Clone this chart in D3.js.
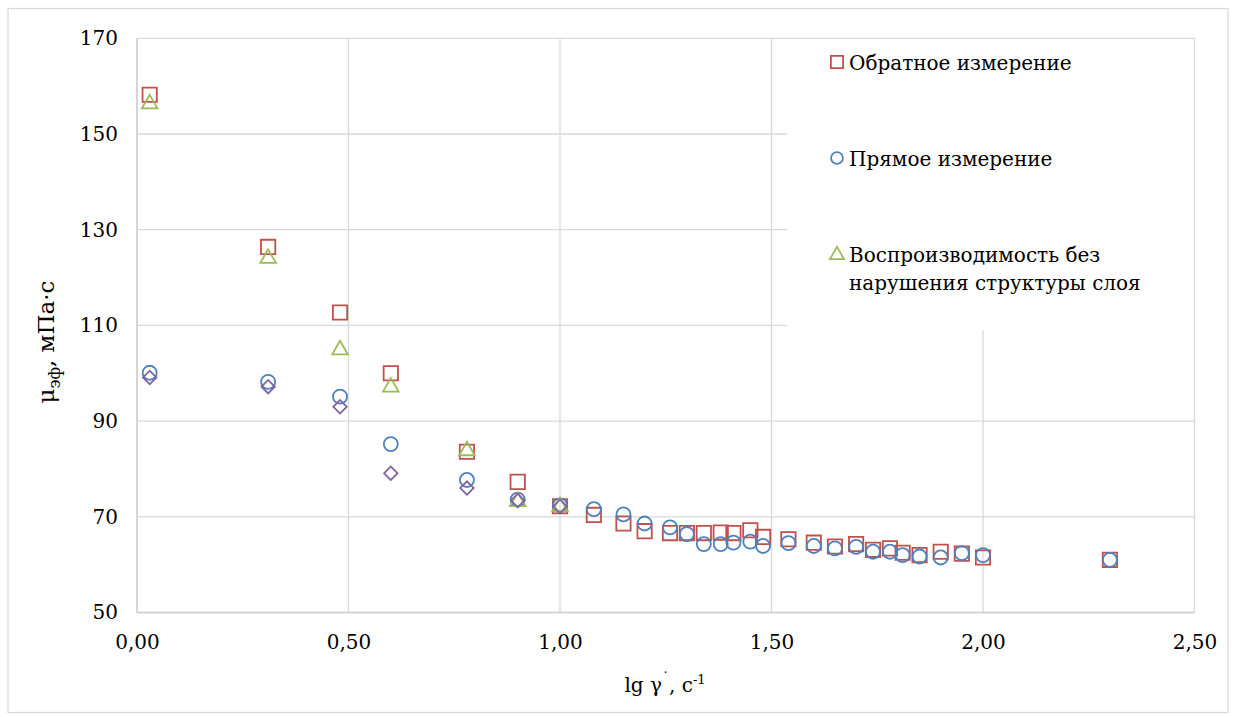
<!DOCTYPE html>
<html><head><meta charset="utf-8">
<script src="https://cdn.jsdelivr.net/npm/d3@7"></script>
<style>
html,body{margin:0;padding:0;background:#fff;}
svg text{font-family:"DejaVu Serif","Liberation Serif",serif;fill:#000;}
</style></head>
<body>
<svg id="chart" width="1236" height="717"></svg>
<script>
// ---- data ----
const xValues = [0.03,0.31,0.48,0.60,0.78,0.90,1.00,1.08,1.15,1.20,1.26,1.30,1.34,1.38,1.41,1.45,1.48,1.54,1.60,1.65,1.70,1.74,1.78,1.81,1.85,1.90,1.95,2.00,2.30];
const reverseValues = [158.2,126.4,112.7,100.0,83.6,77.3,72.2,70.4,68.6,67.0,66.6,66.6,66.6,66.7,66.6,67.2,65.8,65.3,64.6,63.8,64.3,63.1,63.4,62.5,62.0,62.7,62.3,61.5,61.0];
const directValues = [100.1,98.2,95.1,85.2,77.7,73.6,72.4,71.6,70.5,68.6,67.8,66.4,64.3,64.3,64.6,64.8,63.9,64.5,63.9,63.4,63.7,62.7,62.7,62.0,61.7,61.5,62.4,62.0,61.0];
const reproX = [0.03,0.31,0.48,0.60,0.78,0.90,1.00];
const reproValues = [156.3,124.0,104.9,97.1,83.8,73.2,72.1];
const extraX = [0.03,0.31,0.48,0.60,0.78,0.90,1.00];
const extraValues = [99.1,97.2,93.0,79.1,76.0,73.4,72.2];
const xTicks = [0,0.5,1.0,1.5,2.0,2.5];
const yTicks = [50,70,90,110,130,150,170];
const legendLabels = ["Обратное измерение","Прямое измерение",["Воспроизводимость без","нарушения структуры слоя"]];

const colors = {red:"#C0504D", blue:"#4F81BD", green:"#9BBB59", purple:"#8064A2"};

const svg = d3.select("#chart");
const plot = {left:137, right:1194.5, top:38.3, bottom:612.5};

const x = d3.scaleLinear().domain([0,2.5]).range([plot.left, plot.right]);
const y = d3.scaleLinear().domain([50,170]).range([plot.bottom, plot.top]);

// outer border
svg.append("rect").attr("x",8).attr("y",8.5).attr("width",1220).attr("height",704)
  .attr("fill","#fff").attr("stroke","#d9d9d9").attr("stroke-width",1.25);

// gridlines
const grid = svg.append("g");
grid.selectAll("line.h").data(yTicks).join("line")
  .attr("x1",plot.left).attr("x2",plot.right)
  .attr("y1",d=>y(d)).attr("y2",d=>y(d))
  .attr("stroke","#d9d9d9").attr("stroke-width",1.3);
grid.selectAll("line.v").data(xTicks).join("line")
  .attr("y1",plot.top).attr("y2",plot.bottom)
  .attr("x1",d=>x(d)).attr("x2",d=>x(d))
  .attr("stroke","#d9d9d9").attr("stroke-width",1.3);
// axis lines
svg.append("line").attr("x1",plot.left).attr("x2",plot.left).attr("y1",plot.top).attr("y2",plot.bottom)
  .attr("stroke","#cfcfcf").attr("stroke-width",1.5);
svg.append("line").attr("x1",plot.left).attr("x2",plot.right).attr("y1",plot.bottom).attr("y2",plot.bottom)
  .attr("stroke","#cfcfcf").attr("stroke-width",1.5);

// axes labels via d3 axes
const fmt = d => d.toFixed(2).replace(".",",");
const xAxis = d3.axisBottom(x).tickValues(xTicks).tickFormat(fmt).tickSize(0).tickPadding(22);
const gx = svg.append("g").attr("transform",`translate(0,${plot.bottom})`).call(xAxis);
gx.select(".domain").remove();
gx.selectAll("text").style("font-family","DejaVu Serif").style("font-size","20px").attr("fill","#000");

const yAxis = d3.axisLeft(y).tickValues(yTicks).tickFormat(d3.format("d")).tickSize(0).tickPadding(19);
const gy = svg.append("g").attr("transform",`translate(${plot.left},0)`).call(yAxis);
gy.select(".domain").remove();
gy.selectAll("text").style("font-family","DejaVu Serif").style("font-size","20px").attr("fill","#000");

// legend background
svg.append("rect").attr("x",787).attr("y",plot.top+0.7).attr("width",plot.right-787-0.7).attr("height",330-plot.top)
  .attr("fill","#fff");

// markers
const sq = d3.symbol().type(d3.symbolSquare).size(205);
const ci = d3.symbol().type(d3.symbolCircle).size(155);
const tr = d3.symbol().type(d3.symbolTriangle).size(105);
const dm = d3.symbol().type(d3.symbolSquare).size(90);

function series(xs, ys, path, color, rot){
  svg.append("g").selectAll("path").data(xs.map((v,i)=>[v,ys[i]])).join("path")
    .attr("d",path)
    .attr("transform",d=>`translate(${x(d[0])},${y(d[1])})${rot?" rotate(45)":""}`)
    .attr("fill","none").attr("stroke",color).attr("stroke-width",1.8);
}
series(xValues, reverseValues, sq, colors.red);
series(xValues, directValues, ci, colors.blue);
series(reproX, reproValues, tr, colors.green);
series(extraX, extraValues, dm, colors.purple, true);

// legend
const lg = svg.append("g");
const lgMarkX = 837;
const entries = [
  {color:colors.red, my:62, lines:[legendLabels[0]], ty:[70]},
  {color:colors.blue, my:158, lines:[legendLabels[1]], ty:[166]},
  {color:colors.green, my:255, lines:legendLabels[2], ty:[262,290]}
];
const lsq = d3.symbol().type(d3.symbolSquare).size(150);
const lci = d3.symbol().type(d3.symbolCircle).size(110);
const ltr = d3.symbol().type(d3.symbolTriangle).size(85);
[lsq,lci,ltr].forEach((p,i)=>entries[i].path=p);
entries.forEach(e=>{
  lg.append("path").attr("d",e.path).attr("transform",`translate(${lgMarkX},${e.my})`)
    .attr("fill","none").attr("stroke",e.color).attr("stroke-width",1.8);
  e.lines.forEach((t,i)=>{
    lg.append("text").attr("x",849).attr("y",e.ty[i]).style("font-size","20px").text(t);
  });
});

// y label
const yl = svg.append("text").attr("transform","translate(54,342) rotate(-90)")
  .attr("text-anchor","middle").style("font-size","23px");
yl.append("tspan").text("μ");
yl.append("tspan").attr("dy",6).style("font-size","16px").text("эф");
yl.append("tspan").attr("dy",-6).text(", мПа·с");

// x label
const xl = svg.append("text").attr("x",665).attr("y",692).attr("text-anchor","middle").style("font-size","20px");
xl.append("tspan").text("lg γ");
xl.append("tspan").attr("dy",-9).style("font-size","14px").text("˙");
xl.append("tspan").attr("dy",9).text(", с");
xl.append("tspan").attr("dy",-8).style("font-size","13px").text("-1");
</script>
</body></html>
